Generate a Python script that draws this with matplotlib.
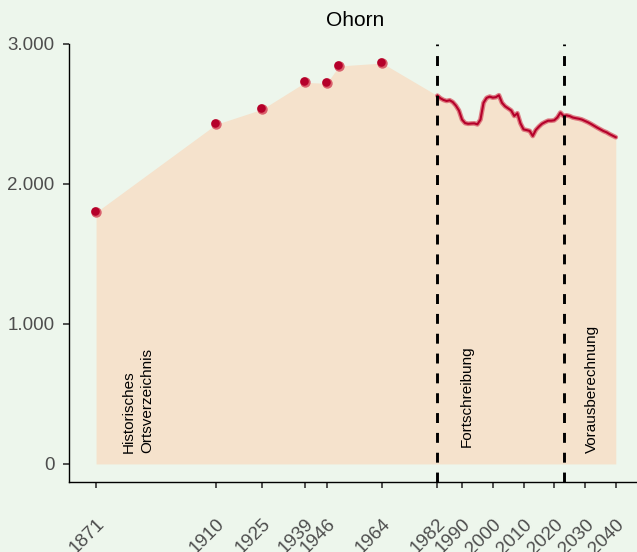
import matplotlib.pyplot as plt
import matplotlib.transforms as mtransforms

plt.rcParams['font.family'] = ['Liberation Sans', 'DejaVu Sans']

# historic census points
hist_years = [1871, 1910, 1925, 1939, 1946, 1950, 1964]
hist_pop = [1798, 2426, 2534, 2726, 2719, 2843, 2864]

# yearly series (Fortschreibung + Vorausberechnung)
line_years = list(range(1982, 2041))
line_pop = [2631, 2612, 2600, 2593, 2598, 2585, 2560, 2525, 2460, 2435,
            2430, 2432, 2433, 2426, 2460, 2580, 2615, 2624, 2617, 2620,
            2634, 2580, 2555, 2540, 2525, 2486, 2505, 2433, 2390, 2385,
            2379, 2343, 2386, 2410, 2430, 2442, 2452, 2452, 2455, 2475,
            2510, 2486, 2490, 2485, 2475, 2470, 2466, 2460, 2450, 2440,
            2428, 2415, 2402, 2390, 2378, 2369, 2356, 2345, 2334]

tick_years = [1871, 1910, 1925, 1939, 1946, 1964, 1982, 1990, 2000, 2010, 2020, 2030, 2040]
y_ticks = [0, 1000, 2000, 3000]
y_labels = ['0', '1.000', '2.000', '3.000']
breaks = [1982, 2023]
section_labels = ['Historisches\nOrtsverzeichnis', 'Fortschreibung', 'Vorausberechnung']
section_x = [1884.7, 1991.5, 2032.2]
section_y = [80, 120, 80]

bg = '#edf6ec'
fill_col = '#f5e2cc'
red = '#b5002a'
pink = '#d9606c'

fig = plt.figure(figsize=(6.37, 5.52), dpi=100, facecolor=bg)
ax = fig.add_axes([69 / 637, 70 / 552, (637 - 69) / 637, (482 - 44) / 552])
ax.set_facecolor(bg)

all_years = hist_years + line_years
all_pop = hist_pop + line_pop
ax.fill_between(all_years, 0, all_pop, color=fill_col, lw=0, zorder=1)

ax.plot(line_years, line_pop, color=pink, lw=3.4, alpha=0.8, zorder=3, solid_capstyle='round')
ax.plot(line_years, line_pop, color=red, lw=1.5, zorder=4)

ax.scatter(hist_years, hist_pop, s=56, color=pink, lw=0, zorder=5)
shift = mtransforms.ScaledTranslation(-0.7 / 72, 0.7 / 72, fig.dpi_scale_trans)
ax.scatter(hist_years, hist_pop, s=38, color=red, lw=0, zorder=6,
           transform=ax.transData + shift)

for b in breaks:
    ax.axvline(b, color='black', lw=2.1, ls=(0, (3.4, 3.4)), zorder=7)

for lab, xx, yy in zip(section_labels, section_x, section_y):
    ax.text(xx, yy, lab, rotation=90, ha='center', va='bottom', fontsize=11,
            color='black', zorder=8, linespacing=1.45, multialignment='left')

ax.set_xlim(1862.2, 2046.9)
ax.set_ylim(-129, 3000)
ax.set_xticks(tick_years)
ax.set_xticklabels([str(t) for t in tick_years], rotation=45, ha='right', va='top',
                   rotation_mode='anchor')
ax.set_yticks(y_ticks)
ax.set_yticklabels(y_labels)
ax.tick_params(axis='both', direction='out', length=4.3, width=1.2, color='#333333',
               labelcolor='#4d4d4d', labelsize=13.5)
ax.tick_params(axis='x', pad=20)
ax.tick_params(axis='y', pad=6)

for s in ['top', 'right']:
    ax.spines[s].set_visible(False)
for s in ['left', 'bottom']:
    ax.spines[s].set_linewidth(1.0)
    ax.spines[s].set_color('black')

fig.text(355 / 637, 1 - 20 / 552, 'Ohorn', ha='center', va='center', fontsize=15)

fig.savefig('out.png', dpi=100, facecolor=bg)
